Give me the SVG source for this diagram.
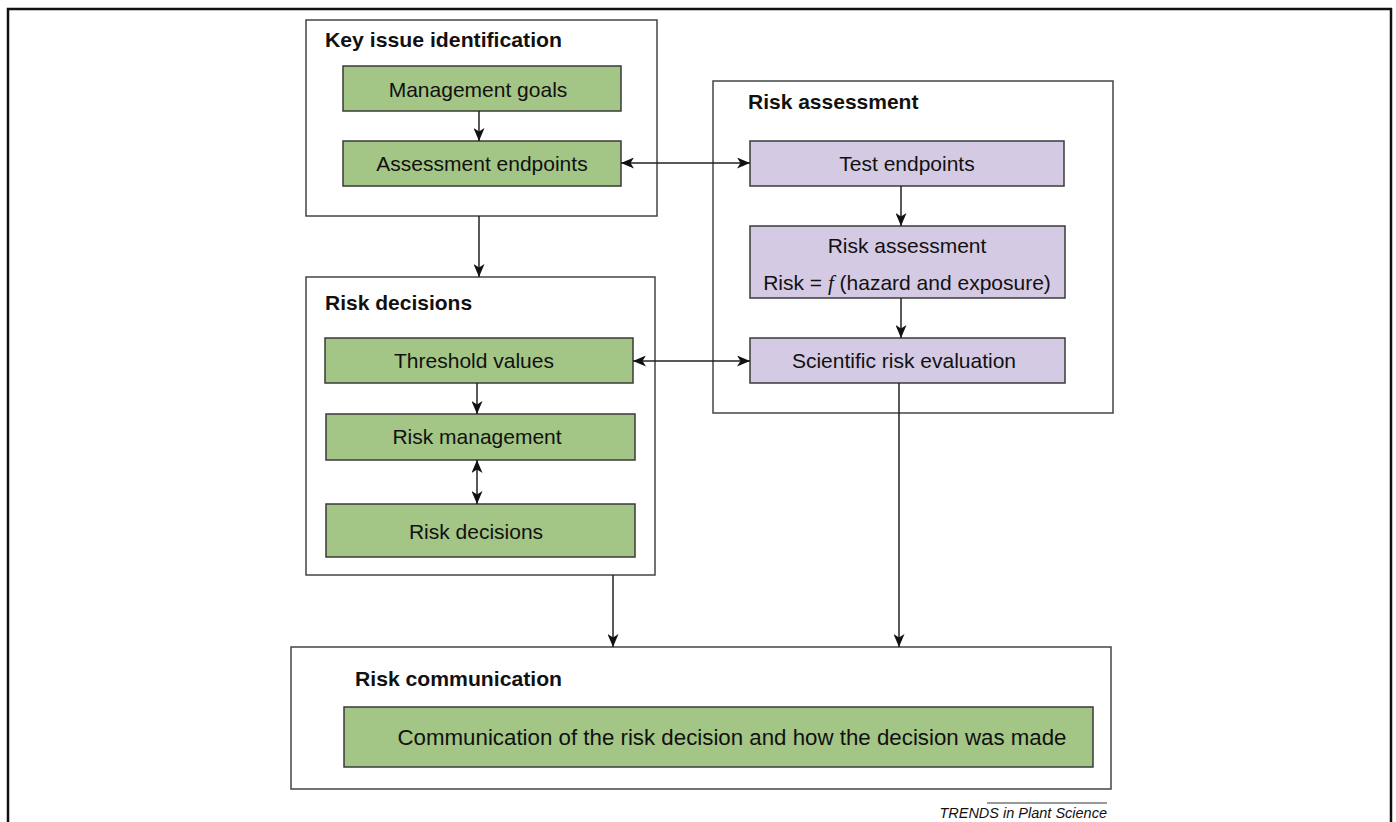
<svg xmlns="http://www.w3.org/2000/svg" width="1396" height="822" viewBox="0 0 1396 822">
<defs>
<style>
.frame{fill:none;stroke:#111;stroke-width:2.5}
.group{fill:#fff;stroke:#444;stroke-width:1.5}
.g{fill:#a3c585;stroke:#3a3a3a;stroke-width:1.5}
.p{fill:#d5cae3;stroke:#3a3a3a;stroke-width:1.5}
.t{font-family:"Liberation Sans",Arial,sans-serif;font-size:21px;fill:#111;text-anchor:middle}
.h{font-family:"Liberation Sans",Arial,sans-serif;font-size:21px;font-weight:bold;fill:#111}
.c{fill:none;stroke:#222;stroke-width:1.5}
</style>
<marker id="ah" viewBox="0 0 13 11" refX="13" refY="5.5" markerWidth="13" markerHeight="11" markerUnits="userSpaceOnUse" orient="auto-start-reverse">
<path d="M0,0 L13,5.5 L0,11 L3.5,5.5 Z" fill="#111"/>
</marker>
</defs>
<rect width="1396" height="822" fill="#fff"/>
<path class="frame" d="M8,822 L8,9 L1391,9 L1391,822"/>

<g id="key-issue">
<rect class="group" x="306" y="20" width="351" height="196"/>
<text class="h" x="325" y="47" textLength="237" lengthAdjust="spacingAndGlyphs">Key issue identification</text>
</g>
<g id="management-goals">
<rect class="g" x="343" y="66" width="278" height="45"/>
<text class="t" x="478" y="97">Management goals</text>
</g>
<g id="assessment-endpoints">
<rect class="g" x="343" y="141" width="278" height="45"/>
<text class="t" x="482" y="171">Assessment endpoints</text>
</g>

<g id="risk-assessment-group">
<rect class="group" x="713" y="81" width="400" height="332"/>
<text class="h" x="748" y="109">Risk assessment</text>
</g>
<g id="test-endpoints">
<rect class="p" x="750" y="141" width="314" height="45"/>
<text class="t" x="907" y="171">Test endpoints</text>
</g>
<g id="risk-assessment">
<rect class="p" x="750" y="226" width="315" height="72"/>
<text class="t" x="907" y="253">Risk assessment</text>
<text class="t" x="907" y="290">Risk = <tspan font-family="'Liberation Serif','Times New Roman',serif" font-style="italic">f</tspan> (hazard and exposure)</text>
</g>
<g id="scientific-risk-evaluation">
<rect class="p" x="750" y="338" width="315" height="45"/>
<text class="t" x="904" y="368">Scientific risk evaluation</text>
</g>

<g id="risk-decisions-group">
<rect class="group" x="306" y="277" width="349" height="298"/>
<text class="h" x="325" y="310">Risk decisions</text>
</g>
<g id="threshold-values">
<rect class="g" x="325" y="338" width="308" height="45"/>
<text class="t" x="474" y="368">Threshold values</text>
</g>
<g id="risk-management">
<rect class="g" x="326" y="414" width="309" height="46"/>
<text class="t" x="477" y="444">Risk management</text>
</g>
<g id="risk-decisions">
<rect class="g" x="326" y="504" width="309" height="53"/>
<text class="t" x="476" y="539">Risk decisions</text>
</g>

<g id="risk-communication-group">
<rect class="group" x="291" y="647" width="820" height="142"/>
<text class="h" x="355" y="686" textLength="207" lengthAdjust="spacingAndGlyphs">Risk communication</text>
</g>
<g id="communication">
<rect class="g" x="344" y="707" width="749" height="60"/>
<text class="t" x="732" y="745" style="font-size:22.5px" textLength="669" lengthAdjust="spacingAndGlyphs">Communication of the risk decision and how the decision was made</text>
</g>

<g id="connectors">
<line class="c" x1="479" y1="111" x2="479" y2="141" marker-end="url(#ah)"/>
<line class="c" x1="621" y1="163" x2="750" y2="163" marker-start="url(#ah)" marker-end="url(#ah)"/>
<line class="c" x1="479" y1="216" x2="479" y2="277" marker-end="url(#ah)"/>
<line class="c" x1="901" y1="186" x2="901" y2="226" marker-end="url(#ah)"/>
<line class="c" x1="901" y1="298" x2="901" y2="338" marker-end="url(#ah)"/>
<line class="c" x1="633" y1="361" x2="750" y2="361" marker-start="url(#ah)" marker-end="url(#ah)"/>
<line class="c" x1="477" y1="383" x2="477" y2="414" marker-end="url(#ah)"/>
<line class="c" x1="477" y1="460" x2="477" y2="504" marker-start="url(#ah)" marker-end="url(#ah)"/>
<line class="c" x1="613" y1="575" x2="613" y2="647" marker-end="url(#ah)"/>
<line class="c" x1="899" y1="383" x2="899" y2="647" marker-end="url(#ah)"/>
</g>

<g id="credit">
<line x1="987" y1="803" x2="1107" y2="803" stroke="#333" stroke-width="1"/>
<text x="1107" y="818" text-anchor="end" font-family="'Liberation Sans',Arial,sans-serif" font-size="14.5" font-style="italic" fill="#111">TRENDS in Plant Science</text>
</g>
</svg>
